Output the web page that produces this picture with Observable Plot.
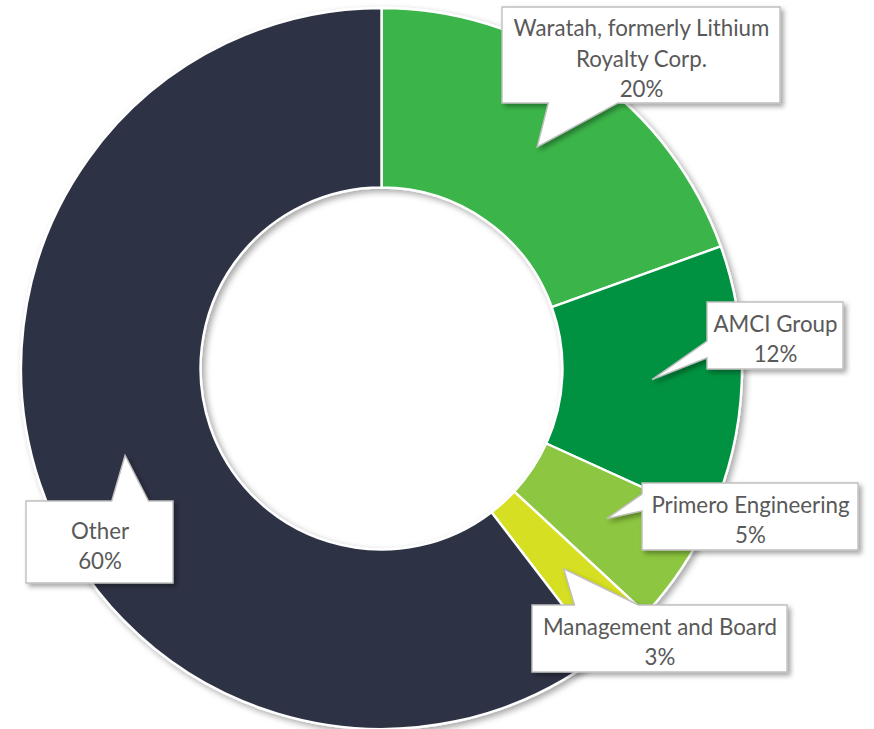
<!DOCTYPE html>
<html>
<head>
<meta charset="utf-8">
<script src="https://cdn.jsdelivr.net/npm/d3@7"></script>
<script src="https://cdn.jsdelivr.net/npm/@observablehq/plot@0.6"></script>
<style>
html, body { margin: 0; padding: 0; background: #ffffff; }
#chart { width: 874px; height: 729px; overflow: hidden; }
</style>
</head>
<body>
<div id="chart"></div>
<script>
// ---- data ----
const holders = ["Waratah, formerly Lithium Royalty Corp.", "AMCI Group", "Primero Engineering", "Management and Board", "Other"];
const labelLines = [["Waratah, formerly Lithium", "Royalty Corp."], ["AMCI Group"], ["Primero Engineering"], ["Management and Board"], ["Other"]];
const shares = [19.5, 12.3, 5.1, 2.7, 60.4];
const colors = ["#3AB54A", "#00923F", "#8DC63F", "#D7DF23", "#2E3345"];

// ---- layout (pixel space) ----
const W = 874, H = 729;
const geom = { cx: 381.5, cy: 368.5, outer: 360.5, inner: 181 };
const layout = {
  boxCX: [641, 775, 750, 659.5, 99.5],
  boxCY: [55, 335.5, 516.5, 638.5, 542],
  boxW: [278, 136, 216, 255, 147],
  boxH: [96, 67, 67, 67, 82],
  baseEdge: ["bottom", "left", "left", "top", "top"],
  baseFrac: [[2, 5], [7, 10], [2, 5], [2, 5], [7, 10]]
};

const rows = holders.map((h, i) => ({
  holder: h, share: shares[i], color: colors[i],
  label: labelLines[i].join("\n") + "\n" + Math.round(shares[i]) + "%"
}));

const pie = d3.pie().sort(null).value(d => d.share);
const arcsData = pie(rows);
const centroidArc = d3.arc().innerRadius(geom.inner).outerRadius(geom.outer);

// callout polygons (box + wedge pointing to slice centroid)
const callouts = arcsData.map((a, i) => {
  const [ox, oy] = centroidArc.centroid(a);
  const tx = geom.cx + ox, ty = geom.cy + oy;
  const w = layout.boxW[i], h = layout.boxH[i];
  const l = layout.boxCX[i] - w / 2, t = layout.boxCY[i] - h / 2, r = l + w, b = t + h;
  const [f1, f2] = layout.baseFrac[i];
  let pts;
  if (layout.baseEdge[i] === "bottom") {
    const x1 = l + w * f1 / 12, x2 = l + w * f2 / 12;
    pts = [[l, t], [r, t], [r, b], [x2, b], [tx, ty], [x1, b], [l, b]];
  } else if (layout.baseEdge[i] === "top") {
    const x1 = l + w * f1 / 12, x2 = l + w * f2 / 12;
    pts = [[l, t], [x1, t], [tx, ty], [x2, t], [r, t], [r, b], [l, b]];
  } else {
    const y1 = t + h * f1 / 12, y2 = t + h * f2 / 12;
    pts = [[l, t], [r, t], [r, b], [l, b], [l, y2], [tx, ty], [l, y1]];
  }
  return pts;
});

function ringMark(index, scales) {
  const X = scales.x, Y = scales.y;
  const cx = X(geom.cx), cy = Y(geom.cy);
  const k = X(geom.cx + 1) - X(geom.cx);
  const arc = d3.arc().innerRadius(geom.inner * k).outerRadius(geom.outer * k);
  const g = d3.create("svg:g")
    .attr("aria-label", "ring")
    .attr("transform", `translate(${cx},${cy})`)
    .attr("filter", "url(#ringShadow)");
  g.selectAll("path").data(arcsData).join("path")
    .attr("d", arc)
    .attr("fill", d => d.data.color)
    .attr("stroke", "#ffffff")
    .attr("stroke-width", 2.4)
    .attr("stroke-linejoin", "round");
  return g.node();
}

function calloutMark(index, scales) {
  const X = scales.x, Y = scales.y;
  const line = d3.line().x(p => X(p[0])).y(p => Y(p[1])).curve(d3.curveLinearClosed);
  const g = d3.create("svg:g")
    .attr("aria-label", "callout")
    .attr("filter", "url(#boxShadow)");
  g.selectAll("path").data(callouts).join("path")
    .attr("d", line)
    .attr("fill", "#ffffff")
    .attr("stroke", "#BFBFBF")
    .attr("stroke-width", 1.4)
    .attr("stroke-linejoin", "miter");
  return g.node();
}

const svg = Plot.plot({
  width: W, height: H, margin: 0,
  x: { domain: [0, W], range: [0, W], axis: null },
  y: { domain: [0, H], range: [0, H], axis: null },
  style: { background: "#ffffff" },
  marks: [
    ringMark,
    calloutMark,
    Plot.text(rows, {
      x: (d, i) => layout.boxCX[i],
      y: (d, i) => layout.boxCY[i],
      text: "label",
      fontSize: 22.3, fontFamily: "Lato", fill: "#595959",
      lineHeight: 1.36, dy: 1.5
    })
  ]
});

const defs = d3.select(svg).insert("defs", ":first-child");
const f1 = defs.append("filter").attr("id", "ringShadow")
  .attr("x", "-10%").attr("y", "-10%").attr("width", "125%").attr("height", "125%");
f1.append("feDropShadow").attr("dx", 3).attr("dy", 3).attr("stdDeviation", 3)
  .attr("flood-color", "#000").attr("flood-opacity", 0.35);
const f2 = defs.append("filter").attr("id", "boxShadow")
  .attr("x", "-20%").attr("y", "-20%").attr("width", "150%").attr("height", "160%");
f2.append("feDropShadow").attr("dx", 3).attr("dy", 3).attr("stdDeviation", 2.5)
  .attr("flood-color", "#000").attr("flood-opacity", 0.35);

document.getElementById("chart").appendChild(svg);
</script>
</body>
</html>
